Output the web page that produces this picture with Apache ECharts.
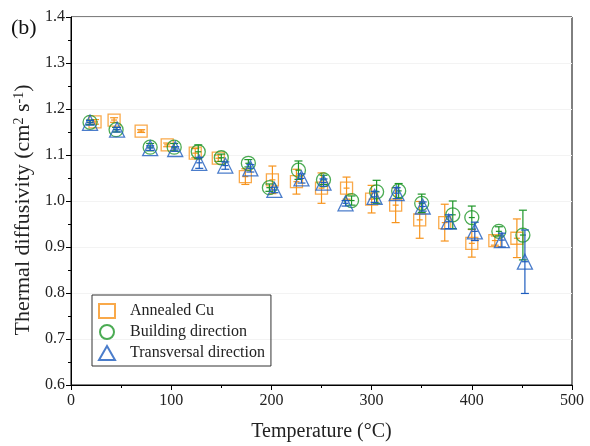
<!DOCTYPE html>
<html>
<head>
<meta charset="utf-8">
<script src="https://cdn.jsdelivr.net/npm/echarts@6/dist/echarts.min.js"></script>
<style>html,body{margin:0;padding:0;background:#fff}#c{width:590px;height:446px}</style>
</head>
<body>
<div id="c"></div>
<script>
// ---- data ----
const seriesNames = ['Annealed Cu', 'Building direction', 'Transversal direction'];

const annealedT   = [24, 43, 70, 96, 124, 147, 174, 201, 225, 250, 275, 300, 324, 348, 373, 400, 423, 445];
const annealedD   = [1.172, 1.176, 1.152, 1.122, 1.104, 1.093, 1.053, 1.046, 1.042, 1.028, 1.028, 1.004, 0.991, 0.959, 0.953, 0.908, 0.914, 0.919];
const annealedErr = [0.005, 0.005, 0.003, 0.004, 0.010, 0.007, 0.017, 0.030, 0.027, 0.033, 0.024, 0.030, 0.038, 0.040, 0.040, 0.030, 0.010, 0.042];

const buildingT   = [19, 45, 79, 103, 127, 150, 177, 198, 227, 252, 280, 305, 327, 350, 381, 400, 427, 451];
const buildingD   = [1.171, 1.155, 1.117, 1.117, 1.107, 1.094, 1.082, 1.029, 1.067, 1.046, 1.001, 1.020, 1.022, 0.995, 0.970, 0.964, 0.934, 0.926];
const buildingErr = [0.005, 0.005, 0.008, 0.008, 0.015, 0.008, 0.008, 0.008, 0.020, 0.010, 0.010, 0.025, 0.016, 0.020, 0.030, 0.025, 0.010, 0.054];

const transT   = [19, 46, 79, 104, 128, 154, 179, 203, 230, 252, 274, 303, 325, 351, 377, 403, 430, 453];
const transD   = [1.170, 1.155, 1.115, 1.113, 1.083, 1.077, 1.071, 1.024, 1.049, 1.040, 0.995, 1.009, 1.017, 0.988, 0.955, 0.934, 0.915, 0.868];
const transErr = [0.005, 0.005, 0.005, 0.005, 0.012, 0.008, 0.008, 0.006, 0.010, 0.008, 0.006, 0.012, 0.012, 0.010, 0.015, 0.020, 0.015, 0.069];

const xTicks = [0, 100, 200, 300, 400, 500];
const yTicks = [0.6, 0.7, 0.8, 0.9, 1.0, 1.1, 1.2, 1.3, 1.4];

// ---- styles ----
const colors = ['#F7941D', '#1E9628', '#1E5DBE'];
const symbols = ['rect', 'circle', 'triangle'];
const symSizes = [12, 14, 15];
const FONT = '"Liberation Serif", "Times New Roman", serif';

function pts(t, d) { return t.map((x, i) => [x, d[i]]); }
function errs(t, d, e) { return t.map((x, i) => [x, d[i], e[i]]); }

function errRender(color) {
  return function (params, api) {
    const x = api.value(0), y = api.value(1), e = api.value(2);
    const hi = api.coord([x, y + e]);
    const lo = api.coord([x, y - e]);
    const c = api.coord([x, y]);
    const cap = 4;
    const st = { stroke: color, lineWidth: 1.2 };
    return {
      type: 'group',
      children: [
        { type: 'line', shape: { x1: hi[0], y1: hi[1], x2: lo[0], y2: lo[1] }, style: st },
        { type: 'line', shape: { x1: hi[0] - cap, y1: hi[1], x2: hi[0] + cap, y2: hi[1] }, style: st },
        { type: 'line', shape: { x1: lo[0] - cap, y1: lo[1], x2: lo[0] + cap, y2: lo[1] }, style: st },
        { type: 'line', shape: { x1: c[0] - 3, y1: c[1], x2: c[0] + 3, y2: c[1] }, style: st }
      ]
    };
  };
}

const groups = [
  [annealedT, annealedD, annealedErr],
  [buildingT, buildingD, buildingErr],
  [transT, transD, transErr]
];

const series = [];
groups.forEach((g, i) => {
  series.push({
    name: seriesNames[i],
    type: 'scatter',
    data: pts(g[0], g[1]),
    symbol: symbols[i],
    symbolSize: symSizes[i],
    itemStyle: { color: 'rgba(255,255,255,0)', borderColor: colors[i], borderWidth: 1.3 },
    emphasis: { disabled: true },
    z: 3 + i
  });
  series.push({
    name: seriesNames[i],
    type: 'custom',
    data: errs(g[0], g[1], g[2]),
    renderItem: errRender(colors[i]),
    silent: true,
    z: 3 + i
  });
});

const chart = echarts.init(document.getElementById('c'), null, { renderer: 'canvas' });
chart.setOption({
  animation: false,
  backgroundColor: '#fff',
  textStyle: { fontFamily: FONT },
  grid: {
    left: 71, right: 18, top: 17, bottom: 61,
    containLabel: false, outerBoundsMode: 'none',
    show: true, borderColor: '#000', borderWidth: 1, backgroundColor: 'transparent'
  },
  title: {
    text: '(b)', left: 6, top: 12,
    textStyle: { fontFamily: FONT, fontSize: 22, fontWeight: 'normal', color: '#111' }
  },
  legend: {
    data: seriesNames,
    orient: 'vertical',
    left: 92, top: 295,
    padding: [8, 6, 5, 6],
    itemGap: 5,
    itemWidth: 16, itemHeight: 14,
    borderColor: '#333', borderWidth: 1,
    textStyle: { fontFamily: FONT, fontSize: 16, lineHeight: 16, color: '#222', padding: [0, 0, 0, 10] }
  },
  xAxis: {
    type: 'value', min: xTicks[0], max: xTicks[xTicks.length - 1], interval: 100,
    name: 'Temperature (°C)', nameLocation: 'middle', nameGap: 37,
    nameTextStyle: { fontFamily: FONT, fontSize: 20, color: '#222' },
    axisLine: { show: true, lineStyle: { color: '#000', width: 1 } },
    axisTick: { show: true, inside: false, length: 5, lineStyle: { color: '#000' } },
    minorTick: { show: true, splitNumber: 2, length: 3, lineStyle: { color: '#000' } },
    axisLabel: { fontFamily: FONT, fontSize: 16, color: '#222', margin: 8 },
    splitLine: { show: false }
  },
  yAxis: {
    type: 'value', min: yTicks[0], max: yTicks[yTicks.length - 1], interval: 0.1,
    name: 'Thermal diffusivity (cm{sup|2} s{sup|-1})', nameLocation: 'middle', nameGap: 27,
    nameTextStyle: {
      fontFamily: FONT, fontSize: 22, color: '#222', padding: [0, 18, 0, 0],
      rich: { sup: { fontFamily: FONT, fontSize: 14, color: '#222', verticalAlign: 'top', lineHeight: 22 } }
    },
    axisLine: { show: true, lineStyle: { color: '#000', width: 1 } },
    axisTick: { show: true, inside: false, length: 5, lineStyle: { color: '#000' } },
    minorTick: { show: true, splitNumber: 2, length: 3, lineStyle: { color: '#000' } },
    axisLabel: { fontFamily: FONT, fontSize: 16, color: '#222', margin: 6, formatter: v => v.toFixed(1) },
    splitLine: { show: true, lineStyle: { color: '#f3f3f3', width: 1 } }
  },
  series: series
});
</script>
</body>
</html>
